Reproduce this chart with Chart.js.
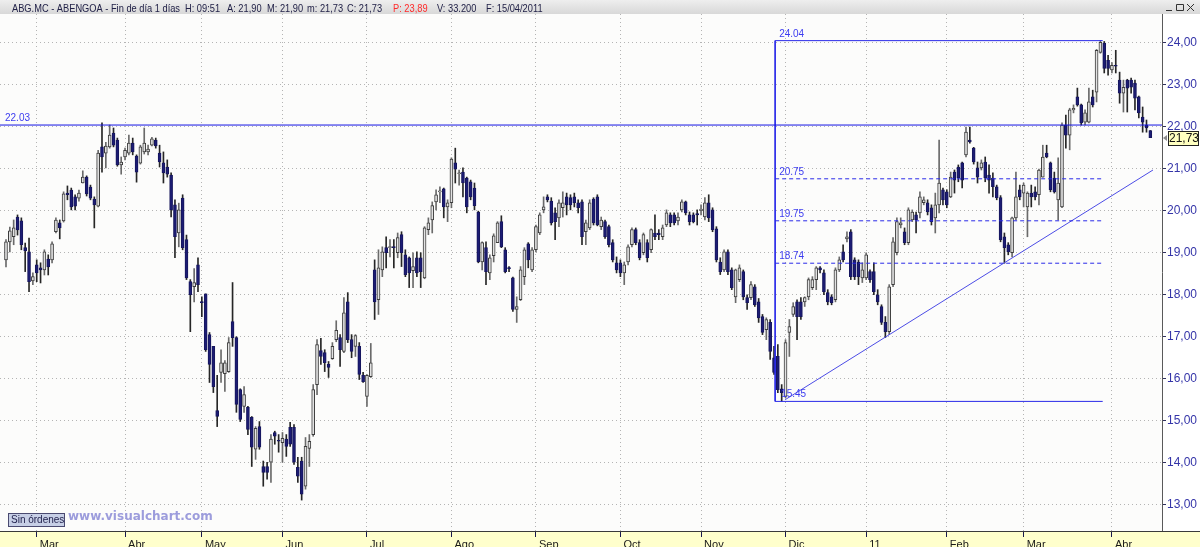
<!DOCTYPE html>
<html>
<head>
<meta charset="utf-8">
<title>ABG.MC - ABENGOA</title>
<script src="https://cdn.jsdelivr.net/npm/chart.js@4.4.1/dist/chart.umd.min.js"></script>
<style>
  html, body { margin: 0; padding: 0; background: #fff; }
  #wrap { width: 1200px; height: 547px; }
</style>
</head>
<body>
<div id="wrap"><canvas id="priceChart" width="1200" height="547"></canvas></div>
<script>
// daily candles, one row per session: [open, high, low, close]
const feb10 = [
  [18.82,19.30,18.65,19.25],[19.25,19.60,19.01,19.51],[19.37,19.77,19.18,19.58],[19.84,19.89,19.41,19.53],
  [19.75,19.82,19.06,19.18],[19.11,19.22,18.54,19.03],[19.01,19.34,18.06,18.30],[18.32,18.51,18.23,18.42]
];
const mar10 = [
  [18.70,18.82,18.30,18.51],[18.63,18.75,18.27,18.58],[18.58,19.06,18.46,19.01],[18.84,18.94,18.46,18.65],
  [18.82,19.25,18.75,19.20],[19.49,19.82,19.46,19.77],[19.70,19.77,19.32,19.58],[19.75,20.44,19.72,20.39],
  [20.41,20.58,20.25,20.37],[20.48,20.53,20.01,20.08],[20.32,20.37,20.01,20.10],[20.29,20.48,20.22,20.41],
  [20.65,20.94,20.65,20.79],[20.79,20.82,20.34,20.39],[20.55,20.60,20.25,20.29],[20.27,20.32,19.58,20.13],
  [20.10,21.43,20.08,21.36],[21.51,22.08,20.91,21.27],[21.36,21.62,21.01,21.53],[21.51,22.03,21.48,21.79],
  [21.84,21.96,21.51,21.55],[21.67,21.72,21.05,21.08],[21.08,21.27,20.86,21.15]
];
const abr10 = [
  [21.27,21.48,21.20,21.43],[21.36,21.79,21.32,21.60],[21.60,21.72,21.32,21.39],[21.29,21.32,20.67,20.91],
  [21.12,21.55,21.10,21.51],[21.39,21.96,21.34,21.60],[21.39,21.55,21.32,21.46],[21.55,21.74,21.53,21.70],
  [21.67,21.72,21.48,21.53],[21.36,21.55,21.03,21.15],[21.13,21.39,20.65,20.89],[21.03,21.20,20.79,20.86],
  [20.84,20.89,19.84,20.01],[20.13,20.25,18.87,19.37],[19.46,20.17,19.13,20.01],[20.29,20.37,19.06,19.11],
  [19.30,19.41,18.35,18.39],[18.30,18.35,17.11,17.99],[18.18,18.61,17.82,18.28],[18.70,18.87,18.06,18.23]
];
const may10 = [
  [17.82,17.94,17.47,17.80],[18.01,18.01,16.64,16.68],[17.04,17.09,15.90,16.33],[16.76,16.76,15.66,15.80],
  [15.23,16.07,14.85,15.09],[16.14,16.68,15.90,16.37],[16.11,16.42,15.69,16.37],[16.16,16.97,16.14,16.85],
  [17.35,18.28,16.76,16.97],[16.97,16.99,15.19,15.38],[15.73,15.75,14.97,15.02],[15.33,15.80,15.19,15.61],
  [15.31,15.33,14.66,14.78],[15.07,15.09,13.90,14.36],[14.31,14.85,14.07,14.81],[14.85,14.97,14.31,14.36],
  [13.90,14.03,13.43,13.76],[13.90,14.00,13.60,13.76],[14.00,14.66,13.52,14.55],[14.71,14.74,14.43,14.62],
  [14.52,14.66,14.24,14.50]
];
const jun10 = [
  [14.47,14.71,14.00,14.57],[14.55,14.66,14.14,14.38],[14.83,14.95,14.38,14.43],[14.83,14.90,13.95,14.00],
  [13.88,14.12,13.52,13.67],[14.03,14.12,13.10,13.24],[13.43,14.59,13.36,14.38],[14.33,14.66,13.90,14.50],
  [14.66,15.85,14.62,15.73],[15.85,16.92,15.61,16.80],[16.66,16.95,16.33,16.52],[16.61,16.68,16.16,16.37],
  [16.33,16.40,16.02,16.26],[16.47,16.85,16.45,16.76],[16.92,17.37,16.87,17.14],[16.97,17.04,16.28,16.68],
  [16.64,17.92,16.61,17.56],[17.82,18.04,16.85,16.92],[16.92,17.04,16.49,16.64],[16.76,17.04,16.52,17.02],
  [16.76,16.85,15.97,16.09],[16.07,16.14,15.90,15.92]
];
const jul10 = [
  [15.57,16.09,15.33,16.07],[16.04,16.83,16.02,16.37],[18.58,18.82,17.40,17.82],[17.87,19.06,17.52,18.63],
  [18.58,19.13,18.42,19.01],[19.11,19.37,18.63,18.99],[19.11,19.30,18.89,19.13],[19.13,19.30,18.63,19.11],
  [18.99,19.46,18.87,19.35],[19.42,19.49,18.66,18.99],[18.94,19.06,18.42,18.47],[18.87,18.89,18.16,18.51],
  [18.56,18.99,18.16,18.66],[18.87,19.01,18.42,18.51],[18.87,18.99,18.16,18.54],[18.39,19.61,18.37,19.58],
  [19.54,19.82,19.42,19.70],[19.77,20.20,19.46,20.11],[20.20,20.49,20.01,20.37],[20.44,20.56,20.18,20.46],
  [20.51,20.53,19.82,20.08],[20.08,20.25,19.73,20.18]
];
const ago10 = [
  [20.18,21.25,20.06,21.22],[21.13,21.48,20.65,20.98],[20.87,20.96,20.60,20.89],[20.91,21.01,20.32,20.65],
  [20.77,20.79,19.94,20.08],[20.68,20.72,20.25,20.32],[20.53,20.65,20.01,20.11],[19.96,19.98,18.75,18.77],
  [18.77,19.25,18.58,19.23],[19.11,19.25,18.23,18.54],[18.51,18.94,18.35,18.87],[18.92,19.44,18.77,19.39],
  [19.23,19.73,19.23,19.70],[19.73,19.87,19.11,19.13],[19.06,19.11,18.51,18.54],[18.63,18.66,18.54,18.61],
  [18.39,18.41,17.59,17.64],[17.64,17.94,17.33,17.71],[17.87,18.66,17.85,18.58],[18.42,19.11,18.23,19.06],
  [19.20,19.23,18.63,18.82],[18.58,19.11,18.54,19.06]
];
const sep10 = [
  [19.06,19.65,19.01,19.61],[19.46,19.94,19.42,19.89],[20.01,20.32,19.94,20.08],[20.32,20.37,20.20,20.25],
  [20.22,20.30,19.65,19.70],[19.94,20.06,19.30,19.73],[19.82,20.25,19.61,20.18],[20.06,20.44,19.84,20.18],
  [20.32,20.41,19.89,20.13],[20.30,20.37,20.01,20.13],[20.32,20.41,20.08,20.18],[20.18,20.25,19.94,20.06],
  [20.20,20.25,19.18,19.37],[19.49,19.77,19.18,19.70],[19.58,20.25,19.54,20.18],[20.27,20.30,19.65,19.70],
  [20.32,20.37,19.63,19.65],[19.61,19.84,19.54,19.77],[19.73,19.77,19.33,19.37],[19.61,19.65,19.13,19.18],
  [19.23,19.30,18.77,18.82],[18.75,18.89,18.51,18.58]
];
const oct10 = [
  [18.75,18.82,18.42,18.51],[18.51,18.77,18.23,18.70],[18.77,19.18,18.70,19.13],[19.18,19.58,19.13,19.54],
  [19.54,19.58,19.18,19.23],[19.23,19.30,18.82,18.87],[18.99,19.46,18.94,19.42],[19.23,19.30,18.77,18.87],
  [19.06,19.56,18.99,19.54],[19.46,19.89,19.30,19.37],[19.46,19.54,19.30,19.42],[19.37,19.65,19.30,19.58],
  [19.65,20.01,19.61,19.94],[19.89,19.94,19.61,19.70],[19.89,19.94,19.65,19.70],[19.75,19.94,19.65,19.84],
  [20.01,20.25,19.96,20.20],[20.20,20.22,19.89,19.94],[19.89,19.96,19.65,19.73],[19.89,19.94,19.70,19.73],
  [19.92,20.01,19.65,19.89]
];
const nov10 = [
  [19.99,20.13,19.89,20.03],[19.84,20.30,19.77,20.18],[20.18,20.37,19.73,19.82],[20.01,20.06,19.49,19.54],
  [19.56,19.61,18.77,18.82],[18.77,18.87,18.47,18.54],[18.58,19.06,18.54,19.01],[19.01,19.06,18.47,18.54],
  [18.58,18.63,18.11,18.16],[17.94,18.60,17.80,18.58],[18.35,18.70,18.30,18.63],[18.54,18.58,17.87,17.94],
  [17.92,17.99,17.64,17.80],[17.92,18.30,17.87,18.23],[18.18,18.23,17.71,17.75],[17.82,17.90,17.33,17.44],
  [17.47,17.52,17.04,17.09],[17.16,17.44,16.92,17.40],[17.33,17.40,16.45,16.64],[16.49,16.76,16.09,16.14],
  [16.52,16.80,15.66,15.73],[15.75,15.85,15.45,15.66]
];
const dic10 = [
  [15.57,16.92,15.54,16.85],[17.09,17.40,16.52,17.23],[17.52,17.80,17.47,17.71],[17.82,17.87,16.92,17.47],
  [17.82,17.92,17.40,17.47],[17.82,17.94,17.71,17.92],[17.94,18.39,17.87,18.35],[18.16,18.42,18.11,18.35],
  [18.35,18.66,18.11,18.63],[18.63,18.66,18.51,18.58],[18.51,18.58,17.99,18.06],[18.04,18.11,17.75,17.82],
  [17.94,17.99,17.75,17.80],[17.87,18.63,17.82,18.58],[18.58,18.89,18.54,18.82],[19.01,19.18,18.77,18.82],
  [19.32,19.49,19.25,19.37],[19.49,19.54,18.35,18.42],[18.82,18.87,18.35,18.42],[18.77,18.82,18.23,18.42],
  [18.39,18.75,18.28,18.58]
];
const ene11 = [
  [18.39,18.99,18.35,18.94],[18.54,18.58,18.28,18.35],[18.54,18.75,17.99,18.06],[17.99,18.11,17.75,17.82],
  [17.71,17.75,17.28,17.33],[17.33,17.47,16.97,17.11],[17.11,18.23,17.04,18.18],[18.23,19.35,18.18,19.25],
  [18.99,19.82,18.94,19.73],[19.65,19.82,19.58,19.70],[19.49,19.58,19.18,19.23],[19.23,20.06,19.18,20.01],
  [19.77,20.01,19.73,19.96],[19.89,19.96,19.46,19.77],[19.94,20.44,19.82,20.32],[20.18,20.32,20.13,20.25],
  [20.18,20.25,19.89,19.96],[20.06,20.13,19.65,19.73],[19.82,20.41,19.46,20.13],[20.13,21.67,19.94,20.65],
  [20.49,20.53,20.13,20.25]
];
const feb11 = [
  [20.44,20.49,20.06,20.13],[20.32,20.91,20.30,20.79],[20.91,20.96,20.41,20.72],[21.03,21.08,20.68,20.77],
  [21.13,21.15,20.53,20.72],[21.32,21.98,21.27,21.86],[21.67,21.98,21.60,21.63],[21.48,21.50,21.10,21.15],
  [21.01,21.15,20.65,20.79],[21.01,21.20,20.96,21.13],[21.15,21.27,20.68,20.77],[20.84,21.08,20.41,20.72],
  [20.77,20.89,20.32,20.56],[20.56,20.60,20.25,20.30],[20.30,20.35,19.25,19.30],[19.37,19.46,18.74,19.11],
  [19.18,19.23,18.94,19.01],[18.99,19.84,18.89,19.82],[19.82,20.91,19.77,20.32],[20.49,20.60,20.25,20.32]
];
const mar11 = [
  [20.41,20.65,20.08,20.60],[20.08,20.44,19.37,20.41],[20.41,20.60,20.08,20.32],[20.44,20.56,20.25,20.32],
  [20.37,20.98,20.13,20.96],[20.79,21.55,20.79,21.27],[21.36,21.55,21.25,21.27],[21.13,21.15,20.44,20.49],
  [20.77,20.91,20.41,20.44],[20.25,21.25,19.77,20.65],[20.08,22.08,20.06,22.03],[22.03,22.27,21.48,21.79],
  [21.79,22.43,21.44,22.39],[22.39,22.51,22.32,22.43],[22.70,22.91,22.48,22.51],[22.51,22.53,22.03,22.08],
  [22.10,22.39,22.03,22.32],[22.10,22.91,22.08,22.58],[22.70,22.86,22.46,22.51],[22.81,23.83,22.58,23.81],
  [23.76,24.04,23.74,24.00],[23.98,24.02,23.27,23.38],[23.57,23.69,23.22,23.38]
];
const abr11 = [
  [23.34,23.52,23.27,23.45],[23.45,23.81,23.27,23.43],[23.10,23.29,22.55,22.79],[22.79,23.10,22.34,22.93],
  [23.10,23.12,22.34,22.91],[23.10,23.15,22.79,22.93],[23.03,23.10,22.39,22.67],[22.70,22.72,22.20,22.32],
  [22.22,22.46,21.86,22.10],[22.03,22.15,21.86,21.96],[21.90,21.90,21.73,21.73]
];

const monthLabels = ['Mar', 'Abr', 'May', 'Jun', 'Jul', 'Ago', 'Sep', 'Oct', 'Nov', 'Dic', '11', 'Feb', 'Mar', 'Abr'];
const yTicks = [13, 14, 15, 16, 17, 18, 19, 20, 21, 22, 23, 24];

// drawn levels (x in session index)
const resistance = 22.03;
const boxX = [200.3, 285.6];
const boxLevels = [24.04, 20.75, 19.75, 18.74, 15.45];
const trendX = [202.9, 298.7];
const trendY = [15.49, 20.96];
const lastPrice = 21.73;

const months = [mar10, abr10, may10, jun10, jul10, ago10, sep10, oct10, nov10, dic10, ene11, feb11, mar11, abr11];
const candles = feb10.concat(...months);

// first session of every month -> x tick
const monthStarts = [];
let n = feb10.length;
months.forEach(m => { monthStarts.push(n); n += m.length; });

const isUp = c => c[3] >= c[0];
const wickData = candles.map((c, i) => ({ x: i, y: [c[2], c[1]] }));
const bodyData = candles.map((c, i) => ({ x: i, y: [Math.min(c[0], c[3]), Math.max(c[0], c[3])] }));

const FONT = '"Liberation Sans", Arial, sans-serif';
const BLUE = '#1414e4';

function seg(x0, y0, x1, y1) {
  return [{ x: x0, y: y0 }, { x: x1, y: y1 }];
}
function lineSet(data, color, dash) {
  return {
    type: 'line', data: data, borderColor: color, borderWidth: 1, borderDash: dash || [],
    pointRadius: 0, fill: false, tension: 0, order: 0
  };
}

// backgrounds, header, labels, price tag
const chartDecor = {
  id: 'chartDecor',
  beforeDraw(chart) {
    const { ctx, chartArea: a } = chart;
    ctx.save();
    ctx.fillStyle = '#ffffff';
    ctx.fillRect(0, 0, 1200, 547);
    ctx.fillStyle = '#fcfcfb';
    ctx.fillRect(a.left, a.top, a.right - a.left, a.bottom - a.top);
    const g = ctx.createLinearGradient(0, 0, 0, a.top);
    g.addColorStop(0, '#eeeeee');
    g.addColorStop(1, '#d8d8d8');
    ctx.fillStyle = g;
    ctx.fillRect(0, 0, 1200, a.top);
    ctx.fillStyle = '#ffffcc';
    ctx.fillRect(0, a.bottom, 1200, 547 - a.bottom);
    ctx.restore();
  },
  afterDraw(chart) {
    const { ctx, chartArea: a, scales } = chart;
    const xs = scales.x, ys = scales.y;
    ctx.save();

    // axis frame
    ctx.strokeStyle = '#5a5a5a';
    ctx.lineWidth = 1;
    ctx.beginPath();
    ctx.moveTo(a.right + 0.5, a.top);
    ctx.lineTo(a.right + 0.5, a.bottom);
    ctx.stroke();
    ctx.strokeStyle = '#3a3a3a';
    ctx.beginPath();
    ctx.moveTo(0, a.bottom + 0.5);
    ctx.lineTo(1200, a.bottom + 0.5);
    ctx.stroke();

    // header text
    ctx.font = '11px ' + FONT;
    ctx.textBaseline = 'alphabetic';
    const headerParts = [
      ['ABG.MC - ABENGOA - Fin de día 1 días', 12], ['H: 09:51', 185], ['A: 21,90', 227],
      ['M: 21,90', 267], ['m: 21,73', 307], ['C: 21,73', 347], ['P: 23,89', 393],
      ['V: 33.200', 437], ['F: 15/04/2011', 486]
    ];
    const sx = 168 / ctx.measureText(headerParts[0][0]).width;
    headerParts.forEach(([t, x]) => {
      ctx.fillStyle = t.startsWith('P:') ? '#ff2a2a' : '#222248';
      ctx.save();
      ctx.translate(x, 11.5);
      ctx.scale(sx, 1);
      ctx.fillText(t, 0, 0);
      ctx.restore();
    });

    // window buttons
    ctx.strokeStyle = '#333333';
    ctx.beginPath();
    ctx.moveTo(1166, 10.5); ctx.lineTo(1172, 10.5);
    ctx.rect(1176.5, 4.5, 7, 6);
    ctx.moveTo(1187, 4); ctx.lineTo(1194, 11);
    ctx.moveTo(1194, 4); ctx.lineTo(1187, 11);
    ctx.stroke();

    // level labels
    ctx.font = '10px ' + FONT;
    ctx.fillStyle = '#3c3cf0';
    ctx.fillText(resistance.toFixed(2), 5, ys.getPixelForValue(resistance) - 4);
    const bx = xs.getPixelForValue(boxX[0]);
    boxLevels.forEach(v => {
      const off = v === boxLevels[boxLevels.length - 1] ? 6 : 4;
      ctx.fillText(v.toFixed(2), bx + off, ys.getPixelForValue(v) - 4);
    });

    // last price tag
    const py = Math.round(ys.getPixelForValue(lastPrice));
    ctx.fillStyle = '#ffffc0';
    ctx.fillRect(1168, py - 7, 31, 15);
    ctx.strokeStyle = '#222222';
    ctx.strokeRect(1168.5, py - 6.5, 30, 14);
    ctx.fillStyle = '#111111';
    ctx.font = '12px ' + FONT;
    ctx.textBaseline = 'middle';
    ctx.fillText(lastPrice.toFixed(2).replace('.', ','), 1169, py + 1);
    ctx.fillStyle = '#8a8a8a';
    ctx.beginPath();
    ctx.moveTo(1163, py); ctx.lineTo(1167, py - 3); ctx.lineTo(1167, py + 3);
    ctx.closePath();
    ctx.fill();

    // status button and watermark
    ctx.fillStyle = '#c7cfe6';
    ctx.fillRect(8, 513, 57, 14);
    ctx.strokeStyle = '#4a4a70';
    ctx.strokeRect(8.5, 513.5, 56, 13);
    ctx.fillStyle = '#1e1e4a';
    ctx.font = '10px ' + FONT;
    ctx.fillText('Sin órdenes', 11, 520.5);
    ctx.fillStyle = '#9c9cdc';
    ctx.font = 'bold 12px "DejaVu Sans", Verdana, sans-serif';
    ctx.fillText('www.visualchart.com', 68, 517);

    ctx.restore();
  }
};

const ctx = document.getElementById('priceChart').getContext('2d');
const priceChart = new Chart(ctx, {
  type: 'bar',
  data: {
    datasets: [
      lineSet(seg(-3, resistance, 303, resistance), BLUE),
      lineSet(seg(boxX[0], boxLevels[0], boxX[1], boxLevels[0]), '#2a2ae8'),
      lineSet(seg(boxX[0], boxLevels[4], boxX[1], boxLevels[4]), '#2a2ae8'),
      lineSet(seg(boxX[0], boxLevels[0], boxX[0], boxLevels[4]), '#2a2ae8'),
      lineSet(seg(boxX[0], boxLevels[1], boxX[1], boxLevels[1]), '#2a2ae8', [4, 3]),
      lineSet(seg(boxX[0], boxLevels[2], boxX[1], boxLevels[2]), '#2a2ae8', [4, 3]),
      lineSet(seg(boxX[0], boxLevels[3], boxX[1], boxLevels[3]), '#2a2ae8', [4, 3]),
      lineSet(seg(trendX[0], trendY[0], trendX[1], trendY[1]), '#4c4ce6'),
      {
        type: 'bar', label: 'body', data: bodyData, order: 1,
        backgroundColor: candles.map(c => isUp(c) ? '#e2e2e2' : '#1c1c74'),
        borderColor: candles.map(c => isUp(c) ? '#3c3c3c' : '#16165c'),
        borderWidth: 1, borderSkipped: false, barThickness: 3, minBarLength: 1, grouped: false
      },
      {
        type: 'bar', label: 'wick', data: wickData, order: 2,
        backgroundColor: candles.map(c => isUp(c) ? '#6a6a6a' : '#262626'),
        borderWidth: 0, barThickness: 1, grouped: false
      }
    ]
  },
  options: {
    responsive: false,
    animation: false,
    devicePixelRatio: 1,
    layout: { padding: { top: 14, left: 0, right: 0, bottom: 0 } },
    plugins: { legend: { display: false }, tooltip: { enabled: false } },
    scales: {
      x: {
        type: 'linear', min: -1.56, max: 301.04, offset: false,
        afterBuildTicks: s => { s.ticks = monthStarts.map(v => ({ value: v })); },
        afterFit: s => { s.height = 16; },
        ticks: {
          autoSkip: false, maxRotation: 0, align: 'start', padding: 1, color: '#1a1a1a',
          font: { family: FONT, size: 11 },
          callback: (v, i) => ' ' + monthLabels[i]
        },
        grid: { offset: false, color: '#b4b4b4', tickColor: '#1a1a50', tickLength: 6, tickBorderDash: [] },
        border: { display: false, dash: [1, 3] }
      },
      y: {
        position: 'right', min: 12.364, max: 24.674,
        afterBuildTicks: s => { s.ticks = yTicks.map(v => ({ value: v })); },
        afterFit: s => { s.width = 38; },
        ticks: {
          padding: 1, color: '#3434a8', font: { family: FONT, size: 12 },
          callback: v => v.toFixed(2).replace('.', ',')
        },
        grid: { color: '#b4b4b4', tickColor: '#303060', tickLength: 4, tickBorderDash: [] },
        border: { display: false, dash: [1, 3] }
      }
    }
  },
  plugins: [chartDecor]
});
</script>
</body>
</html>
